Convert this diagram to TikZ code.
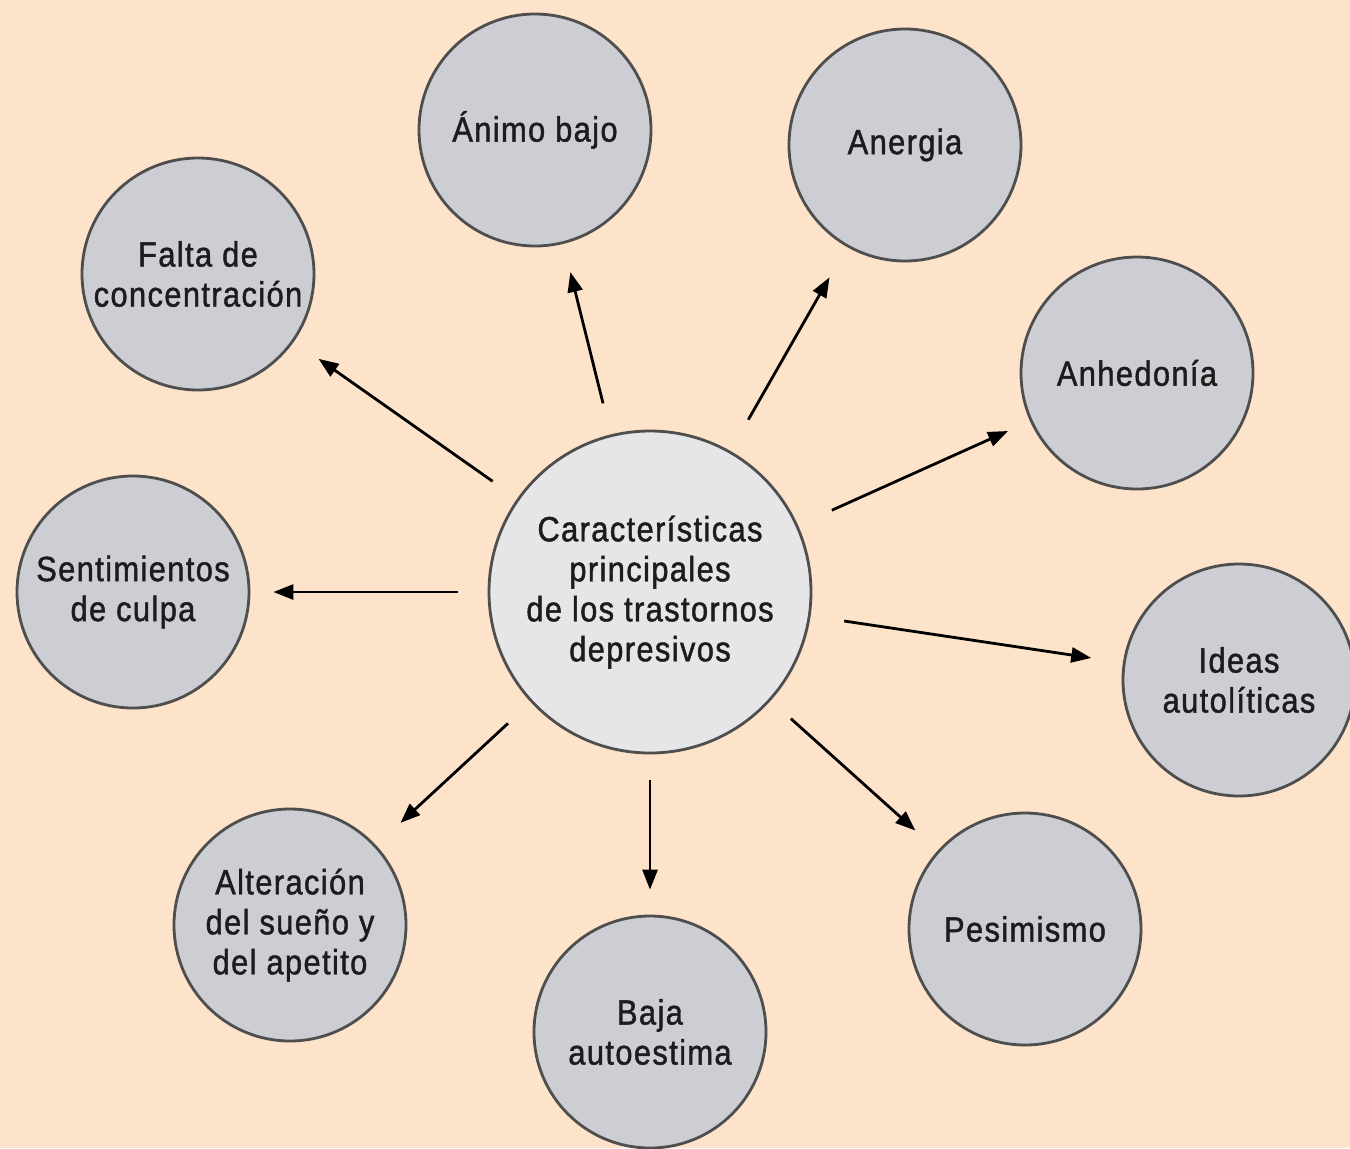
\documentclass[tikz,border=0pt]{standalone}
\usepackage{fontspec}
\setmainfont{Liberation Sans}[FakeStretch=0.88,LetterSpace=4,FakeBold=1.3]
\usetikzlibrary{arrows.meta}
\definecolor{bgpeach}{HTML}{FDE3CA}
\definecolor{circfill}{HTML}{CDCED3}
\definecolor{centfill}{HTML}{E6E6E8}
\definecolor{circline}{HTML}{4E4E4E}
\definecolor{arrline}{HTML}{3A3A3A}
\definecolor{txt}{HTML}{1C1C1C}
\tikzset{
  bubble/.style={circle, draw=circline, line width=1.4pt, fill=circfill, minimum size=116pt, inner sep=0pt, align=center, text=txt, font=\fontsize{17.5}{20}\selectfont},
  hub/.style={bubble, fill=centfill, minimum size=161pt},
  link/.style={draw=arrline, line width=1.4pt, -{Triangle[length=10pt,width=7.5pt]}, black},
}
\begin{document}
\begin{tikzpicture}[x=0.5pt,y=-0.5pt]
\fill[bgpeach] (0,0) rectangle (1350,1148);
\useasboundingbox (0,0) rectangle (1350,1148);
\node[hub] (c) at (650,592) {Características\\principales\\de los trastornos\\depresivos};
\node[bubble] (animo) at (535,130) {Ánimo bajo};
\node[bubble] (anergia) at (905,145) {Anergia};
\node[bubble] (anhed) at (1137,373) {Anhedonía};
\node[bubble] (ideas) at (1239,680) {Ideas\\autolíticas};
\node[bubble] (pesim) at (1025,929) {Pesimismo};
\node[bubble] (baja) at (650,1032) {Baja\\autoestima};
\node[bubble] (alter) at (290,925) {Alteración\\del sueño y\\del apetito};
\node[bubble] (senti) at (133,592) {Sentimientos\\de culpa};
\node[bubble] (falta) at (198,274) {Falta de\\concentración};
\draw[link, shorten <=16pt, shorten >=14.5pt] (c) -- (animo);
\draw[link, shorten <=18pt, shorten >=17.5pt] (c) -- (anergia);
\draw[link, shorten <=18.5pt, shorten >=12pt] (c) -- (anhed);
\draw[link, shorten <=17pt, shorten >=16pt] (c) -- (ideas);
\draw[link, shorten <=13.5pt, shorten >=15pt] (c) -- (pesim);
\draw[link, shorten <=13pt, shorten >=12.5pt] (c) -- (baja);
\draw[link, shorten <=15.5pt, shorten >=16.5pt] (c) -- (alter);
\draw[link, shorten <=15pt, shorten >=11.5pt] (c) -- (senti);
\draw[link, shorten <=15pt, shorten >=15pt] (c) -- (falta);
\end{tikzpicture}
\end{document}
